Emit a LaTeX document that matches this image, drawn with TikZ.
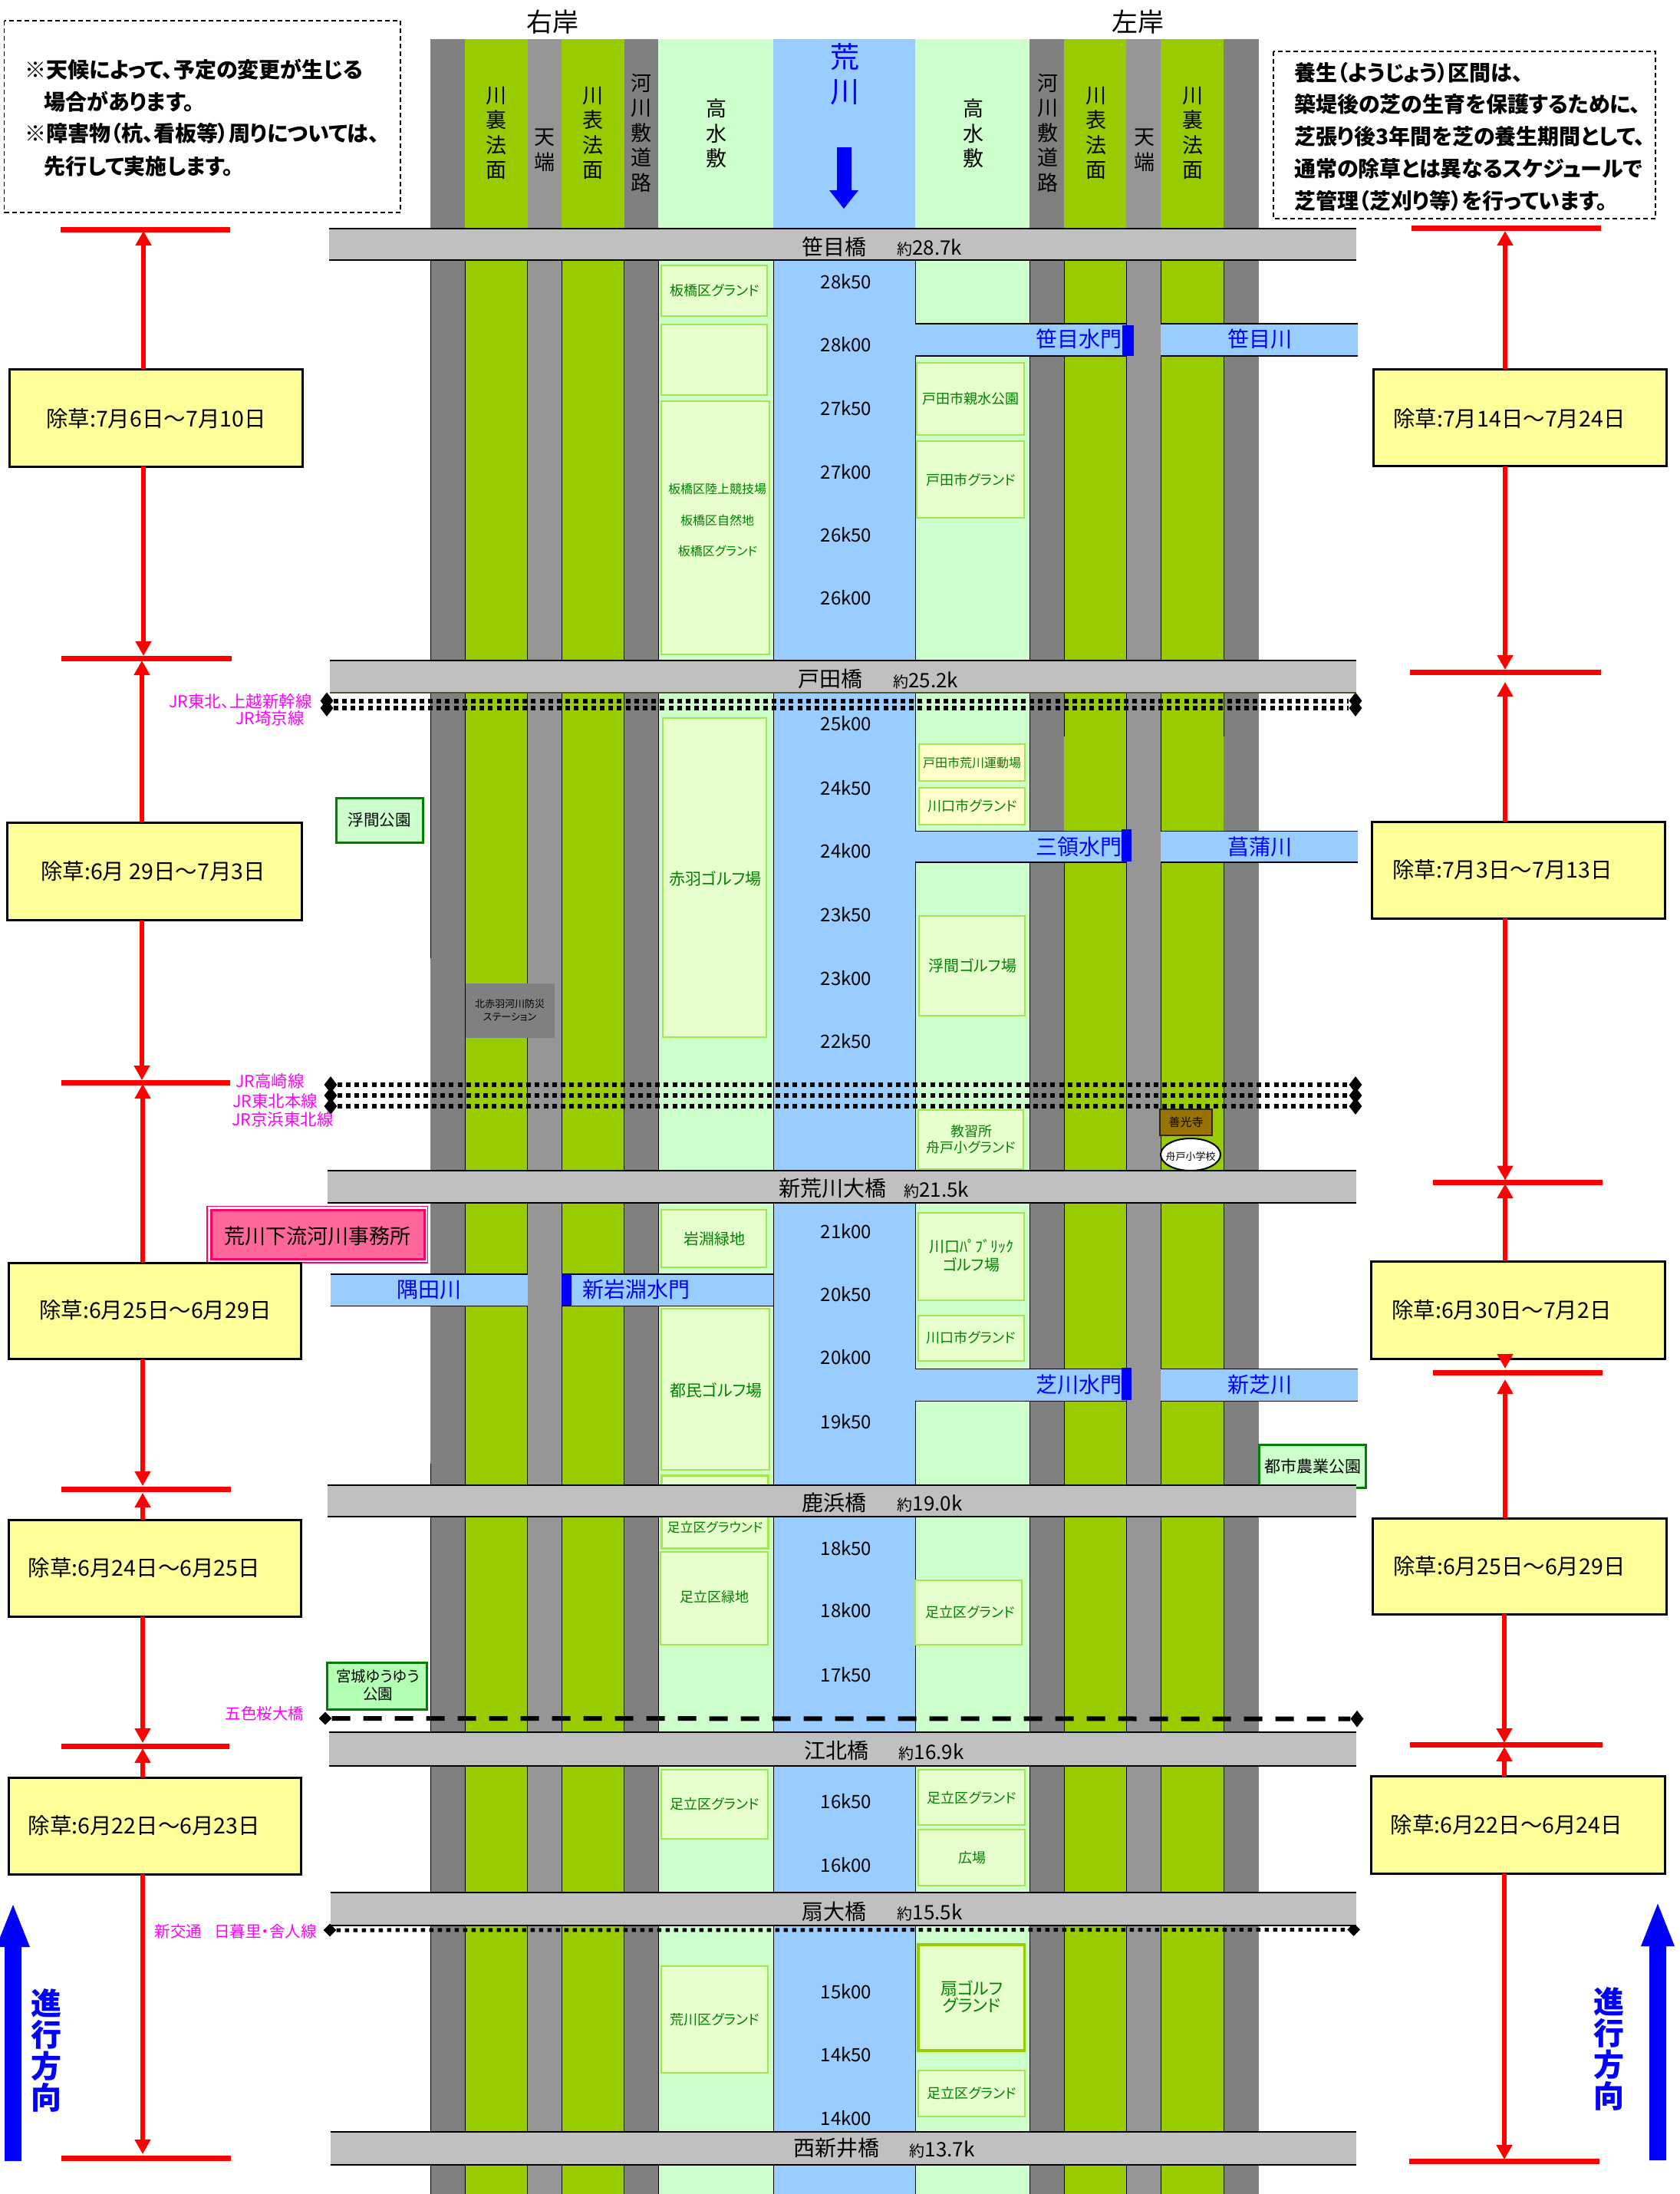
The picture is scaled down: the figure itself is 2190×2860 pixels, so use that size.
\documentclass[tikz,border=0pt]{standalone}
\usepackage{fontspec}
\setmainfont{Noto Sans CJK JP}[RawFeature={+palt}]
\usetikzlibrary{arrows.meta,fit,shapes.geometric}
\definecolor{cgray}{HTML}{808080}
\definecolor{cgreen}{HTML}{99CC00}
\definecolor{ctop}{HTML}{969696}
\definecolor{chigh}{HTML}{CCFFCC}
\definecolor{cwater}{HTML}{99CCFF}
\definecolor{cbridge}{HTML}{C0C0C0}
\definecolor{cbox}{HTML}{E6FFCC}
\definecolor{cedge}{HTML}{A6E64D}
\definecolor{cyell}{HTML}{FFFF99}
\definecolor{cpale}{HTML}{FFFFCC}
\definecolor{ctxt}{HTML}{008000}
\definecolor{cpink}{HTML}{FF00FF}
\definecolor{coff}{HTML}{FF6699}
\definecolor{coffe}{HTML}{FF0066}
\definecolor{cbrown}{HTML}{997300}
\definecolor{cmiya}{HTML}{B3FFB3}
\newcommand\fsz[1]{\fontsize{#1}{#1}\selectfont}
\newcommand\fszl[2]{\fontsize{#1}{#2}\selectfont}
\tikzset{
  x=1pt,y=-1pt,
  yellowbox/.style={draw=black,line width=3pt,fill=cyell,inner sep=0pt,outer sep=0pt},
  datetxt/.style={anchor=west,inner sep=0pt,font=\fsz{28.5}},
  bar/.style={draw=red,line width=7pt},
  redarr/.style={draw=red,line width=6pt,-{Triangle[width=20pt,length=19pt]}},
  gboxs/.style={draw=cedge,line width=2pt,fill=cbox},
  gtxt/.style={text=ctxt,inner sep=0pt},
  vtxt/.style={align=center,inner sep=0pt,font=\fszl{27}{32.5}},
  kmtxt/.style={inner sep=0pt,font=\fsz{24}},
  bluetxt/.style={text=blue,inner sep=0pt,font=\fsz{28}},
  pinktxt/.style={text=cpink,anchor=west,inner sep=0pt,font=\fsz{21.5}},
  brname/.style={anchor=west,inner sep=0pt,font=\fsz{28}},
  brkm/.style={anchor=west,inner sep=0pt,font=\fsz{26}},
  raild/.style={line width=6pt,dash pattern=on 6pt off 5.2pt},
  rdia/.style={diamond,fill=black,inner sep=0pt,minimum width=17pt,minimum height=22pt},
  notebox/.style={draw=black,line width=1.5pt,dash pattern=on 6pt off 4pt},
  notetxt/.style={anchor=west,inner sep=0pt,font=\bfseries\fsz{28}},
  parkbox/.style={line width=3pt,draw=ctxt},
}
\newcommand\strip[3]{\fill[#3] (#1,51) rectangle (#2,2860);}
\newcommand\gb[4]{\draw[gboxs] (#1,#2) rectangle (#3,#4);}
\newcommand\bridge[3]{\fill[cbridge] (#1,#2) rectangle (1768,#3);
  \draw[black,line width=2pt] (#1,#2) -- (1768,#2) (#1,#3) -- (1768,#3);}
\newcommand\waterbar[4]{\fill[cwater] (#1,#3) rectangle (#2,#4);
  \draw[black,line width=1.5pt] (#1,#3) -- (#2,#3) (#1,#4) -- (#2,#4);}
\begin{document}
\begin{tikzpicture}
\useasboundingbox (0,0) rectangle (2190,2860);
% strips
\strip{561}{606}{cgray}
\strip{606}{687.5}{cgreen}
\strip{687.5}{732}{ctop}
\strip{732}{813.5}{cgreen}
\strip{813.5}{858}{cgray}
\strip{858}{1008}{chigh}
\strip{1008}{1193}{cwater}
\strip{1193}{1342}{chigh}
\strip{1342}{1387}{cgray}
\strip{1387}{1468}{cgreen}
\strip{1468}{1513}{ctop}
\strip{1513}{1595}{cgreen}
\strip{1595}{1641}{cgray}
% strip separators
\foreach \x in {606,687.5,732,813.5,858,1008,1193,1342,1468,1513}
  \draw[black,line width=1pt] (\x,339) -- (\x,2860);
\draw[black,line width=1pt] (561,339) -- (561,1249) (561,1908) -- (561,2860);
\foreach \x in {1387,1595}
  \draw[black,line width=1pt] (\x,339) -- (\x,960) (\x,1083) -- (\x,2860);
% water
\waterbar{1193}{1468}{422}{464}
\waterbar{1513}{1770}{422}{464}
\waterbar{1193}{1468}{1083.5}{1124}
\waterbar{1513}{1770}{1083.5}{1124}
\waterbar{1193}{1468}{1784.5}{1826.5}
\waterbar{1513}{1770}{1784.5}{1826.5}
\waterbar{431}{688}{1661}{1702.4}
\waterbar{732}{1008}{1661}{1702.4}
\fill[blue] (1463,424) rectangle (1478,464);
\fill[blue] (1462,1081) rectangle (1475,1122.6);
\fill[blue] (1462,1783) rectangle (1475,1825);
\fill[blue] (732,1661) rectangle (745,1702.4);
% green boxes
\gb{861.5}{345.5}{1000}{411.6}
\gb{861.5}{423}{1000}{515}
\gb{861.5}{523}{1003}{853}
\gb{1194.5}{473}{1335}{567}
\gb{1194.5}{575}{1335}{675}
\gb{864}{936}{999}{1352}
\draw[gboxs,fill=cpale] (1198,969.6) rectangle (1335.6,1018);
\draw[gboxs,fill=cpale] (1198,1027) rectangle (1335.6,1075);
\gb{1198}{1194}{1335.6}{1323.5}
\gb{1197}{1447}{1334}{1524}
\gb{1197}{1580.5}{1335}{1695}
\gb{1197}{1715}{1335}{1774}
\gb{862}{1577}{999}{1652}
\gb{862}{1706}{1003}{1916}
\draw[gboxs,line width=3pt] (862,1923) rectangle (1001,2018);
\gb{860.5}{2023}{1001}{2143.6}
\gb{1193}{2060}{1332}{2143.6}
\gb{862}{2307}{1001}{2397}
\gb{1197}{2307}{1335.6}{2379}
\gb{1197}{2384.5}{1335.6}{2458}
\draw[gboxs,line width=3.5pt,draw=cgreen] (1197,2535) rectangle (1335.6,2673);
\gb{1197}{2698.6}{1335.6}{2759}
\gb{862}{2563}{1001}{2702}
% park boxes
\node[parkbox,fill=chigh,fit={(438,1040) (551,1098)},inner sep=0pt] (ukimapark) {};
\node[parkbox,fill=chigh,fit={(1641.5,1883) (1780.6,1939)},inner sep=0pt] (toshipark) {};
\node[parkbox,fill=cmiya,fit={(426,2167) (556,2228)},inner sep=0pt] (miyagipark) {};
% station and landmarks
\node[fill=cgray,fit={(606.5,1282) (723,1353)},inner sep=0pt] (station) {};
\node[draw=black!70!cbrown,line width=2.5pt,fill=cbrown,fit={(1512,1446) (1580,1480)},inner sep=0pt] (zenkoji) {};
\node[ellipse,draw=black,line width=2pt,fill=white,minimum width=78pt,minimum height=42pt,inner sep=0pt] (funado) at (1552,1505) {};
% rails
\foreach \n/\yy/\lx/\rx in {a/913.5/426/1767,b/923/426/1767,c/1414/431/1767,d/1428/431/1767,e/1442/431/1767}{
  \node[rdia] (rail\n l) at (\lx,\yy) {};
  \node[rdia] (rail\n r) at (\rx,\yy) {};
  \draw[raild] (rail\n l) -- (rail\n r);
}
\node[rdia,minimum width=17pt,minimum height=17pt] (railgl) at (424,2240) {};
\node[rdia,minimum width=17pt,minimum height=22pt] (railgr) at (1769,2240.6) {};
\draw[line width=6pt,dash pattern=on 24pt off 17pt] (railgl) -- (railgr);
\node[rdia,minimum width=17pt,minimum height=17pt] (railnl) at (430,2516) {};
\node[rdia,minimum width=17pt,minimum height=17pt] (railnr) at (1764.6,2515.4) {};
\draw[line width=5pt,dash pattern=on 5.5pt off 5.5pt] (railnl) -- (railnr);
% bridges
\bridge{429}{298}{339}
\bridge{430}{861}{903}
\draw[black!50!olive,line width=2pt] (430,903) -- (1768,903);
\bridge{427}{1526}{1567.6}
\bridge{427}{1936}{1977}
\bridge{429}{2258}{2302}
\bridge{431}{2466.5}{2510}
\bridge{431}{2778.6}{2822}
% bridge labels
\node[brname] (b1n) at (1045,322) {笹目橋};
\node[brkm] (b1k) at (1169,323) {{\fsz{20}約}28.7k};
\node[brname] (b2n) at (1040,885) {戸田橋};
\node[brkm] (b2k) at (1164,887) {{\fsz{20}約}25.2k};
\node[brname] (b3n) at (1015,1549) {新荒川大橋};
\node[brkm] (b3k) at (1178,1551) {{\fsz{20}約}21.5k};
\node[brname] (b4n) at (1045,1959) {鹿浜橋};
\node[brkm] (b4k) at (1169.5,1960) {{\fsz{20}約}19.0k};
\node[brname] (b5n) at (1048,2282) {江北橋};
\node[brkm] (b5k) at (1171.6,2284) {{\fsz{20}約}16.9k};
\node[brname] (b6n) at (1045,2492) {扇大橋};
\node[brkm] (b6k) at (1169.5,2493) {{\fsz{20}約}15.5k};
\node[brname] (b7n) at (1034,2800) {西新井橋};
\node[brkm] (b7k) at (1185.5,2802) {{\fsz{20}約}13.7k};
% km labels
\foreach \t/\yy in {28k50/367,28k00/449,27k50/532,27k00/615,26k50/697,26k00/779,
  25k00/943,24k50/1027,24k00/1109,23k50/1192,23k00/1275,22k50/1357,
  21k00/1605,20k50/1687,20k00/1769,19k50/1853,
  18k50/2018,18k00/2099,17k50/2183,
  16k50/2348,16k00/2431,
  15k00/2596,14k50/2678,14k00/2761}
  \node[kmtxt] (km\t) at (1103,\yy) {\t};
% header labels
\node[inner sep=0pt,font=\fsz{34}] (rbank) at (720,29) {右岸};
\node[inner sep=0pt,font=\fsz{34}] (lbank) at (1483,29) {左岸};
\node[vtxt] (s1) at (646.5,173.5) {川\\裏\\法\\面};
\node[vtxt] (s2) at (710,196) {天\\端};
\node[vtxt] (s3) at (773,173.5) {川\\表\\法\\面};
\node[vtxt] (s4) at (836,173) {河\\川\\敷\\道\\路};
\node[vtxt] (s5) at (934,174) {高\\水\\敷};
\node[vtxt] (s6) at (1268.5,174) {高\\水\\敷};
\node[vtxt] (s7) at (1366,173) {河\\川\\敷\\道\\路};
\node[vtxt] (s8) at (1429,173.5) {川\\表\\法\\面};
\node[vtxt] (s9) at (1492,196) {天\\端};
\node[vtxt] (s10) at (1555,173.5) {川\\裏\\法\\面};
\node[align=center,inner sep=0pt,text=blue,font=\fszl{38}{45}] (river) at (1101,97) {荒\\川};
\fill[blue] (1091,192) -- (1110,192) -- (1110,248) -- (1119,248) -- (1100,272) -- (1081,248) -- (1091,248) -- cycle;
% water labels
\node[bluetxt] (w1) at (1406,442) {笹目水門};
\node[bluetxt] (w2) at (1642,442) {笹目川};
\node[bluetxt] (w3) at (1406,1104) {三領水門};
\node[bluetxt] (w4) at (1642,1104) {菖蒲川};
\node[bluetxt] (w5) at (1406,1805) {芝川水門};
\node[bluetxt] (w6) at (1642,1805) {新芝川};
\node[bluetxt] (w7) at (559,1681) {隅田川};
\node[bluetxt] (w8) at (829,1681) {新岩淵水門};
% green box labels
\node[gtxt,font=\fsz{18}] (g1) at (932,378.6) {板橋区グランド};
\node[gtxt,font=\fsz{16}] (g2) at (935,637.5) {板橋区陸上競技場};
\node[gtxt,font=\fsz{16}] (g3) at (935,678.6) {板橋区自然地};
\node[gtxt,font=\fsz{16}] (g4) at (935.5,718.5) {板橋区グランド};
\node[gtxt,font=\fsz{18}] (g5) at (1265.5,520) {戸田市親水公園};
\node[gtxt,font=\fsz{18}] (g6) at (1266,626) {戸田市グランド};
\node[gtxt,font=\fsz{21}] (g7) at (932.5,1145) {赤羽ゴルフ場};
\node[gtxt,font=\fsz{16}] (g8) at (1267,994) {戸田市荒川運動場};
\node[gtxt,font=\fsz{18}] (g9) at (1268,1051) {川口市グランド};
\node[gtxt,font=\fsz{20}] (g10) at (1268,1259) {浮間ゴルフ場};
\node[gtxt,align=center,font=\fszl{18}{21}] (g11) at (1266,1485) {教習所\\舟戸小グランド};
\node[gtxt,align=center,font=\fszl{20}{24}] (g12) at (1266,1637) {川口ﾊﾟﾌﾞﾘｯｸ\\ゴルフ場};
\node[gtxt,font=\fsz{18}] (g13) at (1266,1744) {川口市グランド};
\node[gtxt,font=\fsz{20}] (g14) at (931.5,1614.5) {岩淵緑地};
\node[gtxt,font=\fsz{21}] (g15) at (933.5,1812) {都民ゴルフ場};
\node[gtxt,font=\fsz{17}] (g16) at (932,1991) {足立区グラウンド};
\node[gtxt,font=\fsz{18}] (g17) at (931,2082) {足立区緑地};
\node[gtxt,font=\fsz{18}] (g18) at (1265,2102) {足立区グランド};
\node[gtxt,font=\fsz{18}] (g19) at (932,2352) {足立区グランド};
\node[gtxt,font=\fsz{18}] (g20) at (1267,2344) {足立区グランド};
\node[gtxt,font=\fsz{18}] (g21) at (1267,2422) {広場};
\node[gtxt,align=center,font=\fszl{22}{22}] (g22) at (1267,2603) {扇ゴルフ\\グランド};
\node[gtxt,font=\fsz{18}] (g23) at (1267,2729) {足立区グランド};
\node[gtxt,font=\fsz{18}] (g24) at (932,2633) {荒川区グランド};
% black small labels
\node[inner sep=0pt,font=\fsz{20.5}] (ukimat) at (494.5,1069) {浮間公園};
\node[inner sep=0pt,font=\fsz{21}] (toshit) at (1711,1911) {都市農業公園};
\node[inner sep=0pt,align=center,font=\fszl{19.5}{23}] (miyagit) at (492.5,2197) {宮城ゆうゆう\\公園};
\node[inner sep=0pt,align=center,font=\fszl{13}{17}] (statt) at (664.5,1317) {北赤羽河川防災\\ステーション};
\node[inner sep=0pt,font=\fsz{15}] (zent) at (1546,1463) {善光寺};
\node[inner sep=0pt,font=\fsz{13}] (funt) at (1552,1508) {舟戸小学校};
% pink labels
\node[pinktxt] (p1) at (220,914) {JR東北、上越新幹線};
\node[pinktxt] (p2) at (307,936) {JR埼京線};
\node[pinktxt] (p3) at (307,1409) {JR高崎線};
\node[pinktxt] (p4) at (303,1435) {JR東北本線};
\node[pinktxt] (p5) at (302,1459) {JR京浜東北線};
\node[pinktxt,font=\fsz{20.5}] (p6) at (293.5,2234) {五色桜大橋};
\node[pinktxt,font=\fsz{20.5}] (p7) at (201.7,2518) {新交通\hspace{16pt}日暮里・舎人線};
% office
\node[draw=coffe,line width=1.5pt,fill=white,fit={(270,1572.5) (557.5,1646)},inner sep=0pt] (office) {};
\node[draw=coffe,line width=3pt,fill=coff,fit={(275,1577) (553,1641)},inner sep=0pt] (officein) {};
\node[inner sep=0pt,font=\fsz{27}] (officet) at (414,1611) {荒川下流河川事務所};
% notes
\draw[notebox] (5.6,27) rectangle (522,277);
\node[notetxt] (n1) at (32,90.6) {※天候によって、予定の変更が生じる};
\node[notetxt] (n2) at (57.5,132.6) {場合があります。};
\node[notetxt] (n3) at (32,174) {※障害物（杭、看板等）周りについては、};
\node[notetxt] (n4) at (57.5,216.5) {先行して実施します。};
\draw[notebox] (1660,67) rectangle (2158,285);
\node[notetxt] (m1) at (1687,94.6) {養生（ようじょう）区間は、};
\node[notetxt] (m2) at (1687,136) {築堤後の芝の生育を保護するために、};
\node[notetxt] (m3) at (1687,177.7) {芝張り後3年間を芝の養生期間として、};
\node[notetxt] (m4) at (1687,219.6) {通常の除草とは異なるスケジュールで};
\node[notetxt] (m5) at (1687,261.6) {芝管理（芝刈り等）を行っています。};
% left schedule boxes
\node[yellowbox,fit={(12.6,481) (394,608)}] (L1) {};
\node[yellowbox,fit={(9,1072) (393,1199.5)}] (L2) {};
\node[yellowbox,fit={(11,1646) (392,1771.6)}] (L3) {};
\node[yellowbox,fit={(11,1981) (392,2107)}] (L4) {};
\node[yellowbox,fit={(11,2317) (392,2443)}] (L5) {};
\node[datetxt] (L1t) at (60,545.5) {除草:7月6日～7月10日};
\node[datetxt] (L2t) at (53,1136) {除草:6月 29日～7月3日};
\node[datetxt] (L3t) at (51,1708) {除草:6月25日～6月29日};
\node[datetxt] (L4t) at (36.5,2044) {除草:6月24日～6月25日};
\node[datetxt] (L5t) at (36.5,2380) {除草:6月22日～6月23日};
% right schedule boxes
\node[yellowbox,fit={(1790,481) (2172.6,607.6)}] (R1) {};
\node[yellowbox,fit={(1788,1071) (2170.6,1197)}] (R2) {};
\node[yellowbox,fit={(1787.5,1644) (2170,1771)}] (R3) {};
\node[yellowbox,fit={(1789.6,1979) (2172.6,2104)}] (R4) {};
\node[yellowbox,fit={(1787.5,2315.7) (2170,2442)}] (R5) {};
\node[datetxt] (R1t) at (1816,545.5) {除草:7月14日～7月24日};
\node[datetxt] (R2t) at (1815,1134) {除草:7月3日～7月13日};
\node[datetxt] (R3t) at (1814,1708) {除草:6月30日～7月2日};
\node[datetxt] (R4t) at (1816,2042) {除草:6月25日～6月29日};
\node[datetxt] (R5t) at (1812.5,2379) {除草:6月22日～6月24日};
% left red bars
\draw[bar] (79,299) -- (300,299);
\draw[bar] (80,858) -- (302,858);
\draw[bar] (80,1411.6) -- (300,1411.6);
\draw[bar] (80,1941) -- (301,1941);
\draw[bar] (80,2276) -- (299,2276);
\draw[bar] (80,2813) -- (301,2813);
% left arrows
\coordinate (la1) at (187,301);
\coordinate (la2) at (187,855);
\coordinate (la3) at (185,861);
\coordinate (la4) at (185,1408);
\coordinate (la5) at (186,1413);
\coordinate (la6) at (186,1937);
\coordinate (la7) at (186,1946);
\coordinate (la8) at (186,2272);
\coordinate (la9) at (186,2279);
\coordinate (la10) at (186,2808);
\draw[redarr] (la1 |- L1.north) -- (la1);
\draw[redarr] (la2 |- L1.south) -- (la2);
\draw[redarr] (la3 |- L2.north) -- (la3);
\draw[redarr] (la4 |- L2.south) -- (la4);
\draw[redarr] (la5 |- L3.north) -- (la5);
\draw[redarr] (la6 |- L3.south) -- (la6);
\draw[redarr] (la7 |- L4.north) -- (la7);
\draw[redarr] (la8 |- L4.south) -- (la8);
\draw[redarr] (la9 |- L5.north) -- (la9);
\draw[redarr] (la10 |- L5.south) -- (la10);
% right red bars
\draw[bar] (1840,297) -- (2087,297);
\draw[bar] (1838,876) -- (2086.5,876);
\draw[bar] (1867.5,1541.7) -- (2089,1541.7);
\draw[bar] (1867.5,1789) -- (2089,1789);
\draw[bar] (1838,2274.5) -- (2088.5,2274.5);
\draw[bar] (1837,2817.4) -- (2085,2817.4);
% right arrows
\coordinate (ra1) at (1962,301);
\coordinate (ra2) at (1962,873);
\coordinate (ra3) at (1962,889);
\coordinate (ra4) at (1962,1538.6);
\coordinate (ra5) at (1962,1543);
\coordinate (ra6) at (1962,1784);
\coordinate (ra7) at (1962,1798);
\coordinate (ra8) at (1961,2272);
\coordinate (ra9) at (1961,2277);
\coordinate (ra10) at (1961,2815);
\draw[redarr] (ra1 |- R1.north) -- (ra1);
\draw[redarr] (ra2 |- R1.south) -- (ra2);
\draw[redarr] (ra3 |- R2.north) -- (ra3);
\draw[redarr] (ra4 |- R2.south) -- (ra4);
\draw[redarr] (ra5 |- R3.north) -- (ra5);
\draw[redarr] (ra6 |- R3.south) -- (ra6);
\draw[redarr] (ra7 |- R4.north) -- (ra7);
\draw[redarr] (ra8 |- R4.south) -- (ra8);
\draw[redarr] (ra9 |- R5.north) -- (ra9);
\draw[redarr] (ra10 |- R5.south) -- (ra10);
% direction arrows
\fill[blue] (6,2817) -- (28,2817) -- (28,2538) -- (39,2538) -- (17,2483) -- (-5,2538) -- (6,2538) -- cycle;
\fill[blue] (2150,2816) -- (2172,2816) -- (2172,2537) -- (2183,2537) -- (2161,2481.5) -- (2139,2537) -- (2150,2537) -- cycle;
\node[align=center,inner sep=0pt,text=blue,font=\bfseries\fszl{40}{41}] (dirl) at (60,2672.5) {進\\行\\方\\向};
\node[align=center,inner sep=0pt,text=blue,font=\bfseries\fszl{40}{41}] (dirr) at (2097,2671) {進\\行\\方\\向};
\end{tikzpicture}
\end{document}
